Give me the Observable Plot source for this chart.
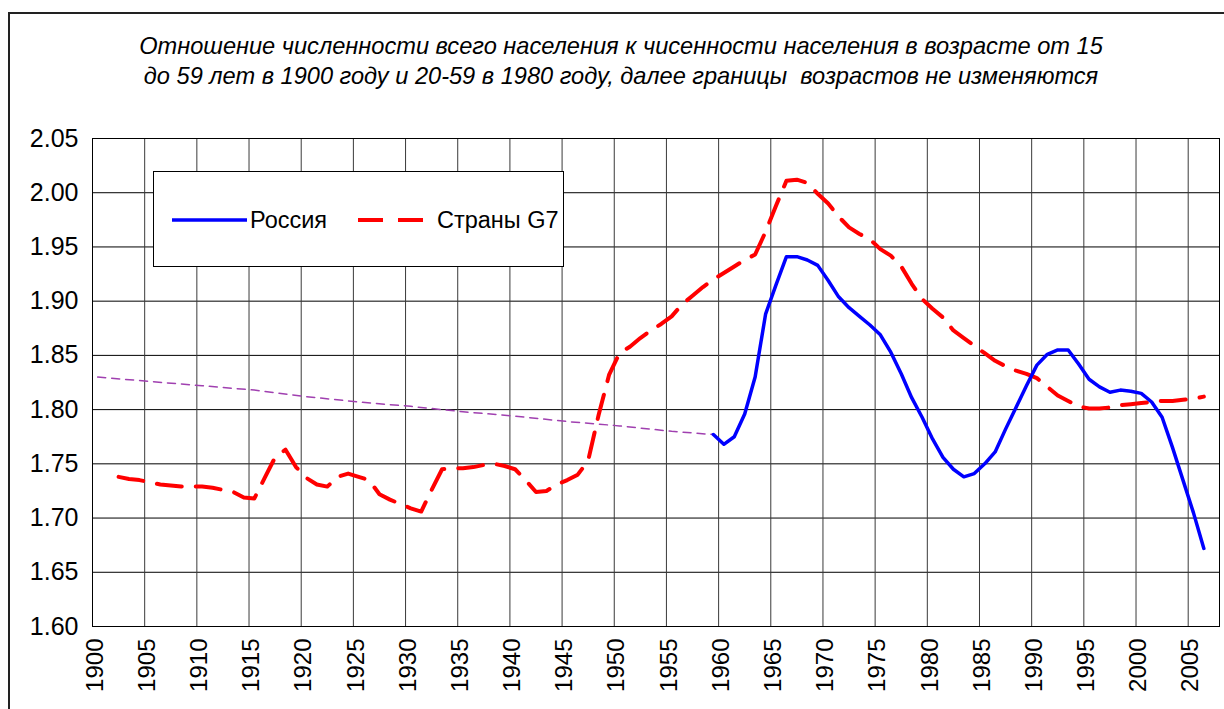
<!DOCTYPE html>
<html>
<head>
<meta charset="utf-8">
<script src="https://cdn.jsdelivr.net/npm/d3@7"></script>
<script src="https://cdn.jsdelivr.net/npm/@observablehq/plot@0.6"></script>
<style>
  body { margin: 0; background: #fff; }
  #wrap { position: relative; width: 1224px; height: 709px; overflow: hidden; background: #fff;
          font-family: "Liberation Sans", Arial, sans-serif; color: #000; }
  #chart { position: absolute; left: 0; top: 0; }
  #frameTop { position: absolute; left: 9px; top: 12px; width: 1230px; height: 0; border-top: 2px solid #222; }
  #frameLeft { position: absolute; left: 8px; top: 12px; width: 0; height: 720px; border-left: 2px solid #222; }
  #title { position: absolute; left: 0; width: 1242px; top: 31px; text-align: center; font-style: italic;
           font-size: 23.6px; line-height: 30px; white-space: pre; }
  #legend { position: absolute; left: 153px; top: 171px; width: 409px; height: 94px; background: #fff;
            border: 1px solid #000; }
  #legend svg { position: absolute; left: 0; top: 0; }
</style>
</head>
<body>
<div id="wrap">
  <div id="chart"></div>
  <div id="frameTop"></div>
  <div id="frameLeft"></div>
  <div id="title"></div>
  <div id="legend"></div>
</div>
<script>
// ---- Data ----
const titleLines = [
  "Отношение численности всего населения к чиcенности населения в возрасте от 15",
  "до 59 лет в 1900 году и 20-59 в 1980 году, далее границы  возрастов не изменяются"
];
const seriesNames = ["Россия", "Страны G7"];

const russiaYears = [1959,1960,1961,1962,1963,1964,1965,1966,1967,1968,1969,1970,1971,1972,1973,1974,1975,1976,1977,1978,1979,1980,1981,1982,1983,1984,1985,1986,1987,1988,1989,1990,1991,1992,1993,1994,1995,1996,1997,1998,1999,2000,2001,2002,2003,2004,2005,2006];
const russiaValues = [1.777,1.768,1.775,1.796,1.830,1.888,1.915,1.941,1.941,1.938,1.933,1.919,1.904,1.894,1.886,1.878,1.869,1.853,1.833,1.811,1.793,1.773,1.756,1.745,1.738,1.741,1.750,1.761,1.782,1.802,1.822,1.841,1.851,1.855,1.855,1.842,1.828,1.821,1.816,1.818,1.817,1.815,1.807,1.793,1.765,1.735,1.705,1.672];

const g7Years = [1902,1903,1904,1905,1906,1907,1908,1909,1910,1911,1912,1913,1914,1915,1916,1917,1918,1919,1920,1921,1922,1923,1924,1925,1926,1927,1928,1929,1930,1931,1932,1933,1934,1935,1936,1937,1938,1939,1940,1941,1942,1943,1944,1945,1946,1947,1948,1949,1950,1951,1952,1953,1954,1955,1956,1957,1958,1959,1960,1961,1962,1963,1964,1965,1966,1967,1968,1969,1970,1971,1972,1973,1974,1975,1976,1977,1978,1979,1980,1981,1982,1983,1984,1985,1986,1987,1988,1989,1990,1991,1992,1993,1994,1995,1996,1997,1998,1999,2000,2001,2002,2003,2004,2005,2006];
const g7Values = [1.738,1.736,1.735,1.733,1.731,1.730,1.729,1.729,1.729,1.728,1.726,1.724,1.719,1.718,1.737,1.756,1.763,1.747,1.737,1.731,1.729,1.738,1.741,1.738,1.735,1.722,1.717,1.713,1.709,1.706,1.726,1.745,1.746,1.746,1.747,1.749,1.750,1.748,1.745,1.735,1.724,1.725,1.731,1.735,1.740,1.753,1.795,1.832,1.852,1.858,1.866,1.873,1.879,1.886,1.897,1.905,1.913,1.920,1.926,1.932,1.938,1.943,1.964,1.988,2.011,2.012,2.009,1.999,1.990,1.978,1.968,1.962,1.957,1.948,1.942,1.932,1.916,1.902,1.893,1.885,1.873,1.866,1.859,1.852,1.845,1.840,1.836,1.833,1.829,1.821,1.813,1.808,1.803,1.801,1.801,1.802,1.804,1.805,1.806,1.807,1.808,1.808,1.809,1.810,1.812];

const trendYears = [1900,1905,1910,1915,1920,1925,1930,1935,1940,1945,1950,1955,1959];
const trendValues = [1.830,1.826,1.822,1.818,1.812,1.807,1.803,1.798,1.794,1.789,1.785,1.780,1.777];

const yTicks = [1.60,1.65,1.70,1.75,1.80,1.85,1.90,1.95,2.00,2.05];
const xTickYears = [1900,1905,1910,1915,1920,1925,1930,1935,1940,1945,1950,1955,1960,1965,1970,1975,1980,1985,1990,1995,2000,2005];

// ---- Build tables ----
const rus = russiaYears.map((y, i) => ({year: y, value: russiaValues[i]}));
const g7 = g7Years.map((y, i) => ({year: y, value: g7Values[i]}));
const trend = trendYears.map((y, i) => ({year: y, value: trendValues[i]}));

const FONT = '"Liberation Sans", Arial, sans-serif';

const chart = Plot.plot({
  width: 1224,
  height: 709,
  marginLeft: 92,
  marginRight: 5,
  marginTop: 138,
  marginBottom: 83,
  x: {type: "linear", domain: [1900, 2008], axis: null},
  y: {domain: [1.60, 2.05], label: null},
  style: {fontFamily: FONT, fontSize: "25px", background: "transparent", color: "#000"},
  marks: [
    Plot.ruleY(yTicks, {stroke: "#000", strokeWidth: 1}),
    Plot.ruleX(xTickYears, {stroke: "#3a3a3a", strokeWidth: 1}),
    Plot.frame({stroke: "#000", strokeWidth: 1}),
    Plot.axisY(yTicks, {tickSize: 0, tickPadding: 14, tickFormat: d3.format(".2f"), fontSize: 25, fill: "#000", label: null}),
    Plot.text(xTickYears, {
      x: d => d + 0.5, frameAnchor: "bottom", dy: 12, dx: 5, rotate: -90, textAnchor: "end",
      text: d => String(d), fontSize: 24, fill: "#000"
    }),
    Plot.line(trend, {x: d => d.year + 0.5, y: "value", stroke: "#a040b0", strokeWidth: 1.5, strokeDasharray: "8,6"}),
    Plot.line(g7, {x: d => d.year + 0.5, y: "value", stroke: "#ff0000", strokeWidth: 4, strokeDasharray: "25,14", strokeLinejoin: "round"}),
    Plot.line(rus, {x: d => d.year + 0.5, y: "value", stroke: "#0000ff", strokeWidth: 3.5, strokeLinejoin: "round"})
  ]
});
document.getElementById("chart").appendChild(chart);

// ---- Title ----
document.getElementById("title").innerHTML = titleLines.map(t => `<div>${t}</div>`).join("");

// ---- Legend ----
const leg = d3.select("#legend").append("svg").attr("width", 409).attr("height", 94)
  .style("font-family", FONT).style("font-size", "23.5px");
leg.append("line").attr("x1", 18).attr("x2", 93).attr("y1", 48).attr("y2", 48)
  .attr("stroke", "#0000ff").attr("stroke-width", 3.5);
leg.append("text").attr("x", 96).attr("y", 56).text(seriesNames[0]);
leg.append("line").attr("x1", 204).attr("x2", 269).attr("y1", 48).attr("y2", 48)
  .attr("stroke", "#ff0000").attr("stroke-width", 4).attr("stroke-dasharray", "25,15");
leg.append("text").attr("x", 283).attr("y", 56).text(seriesNames[1]);
</script>
</body>
</html>
